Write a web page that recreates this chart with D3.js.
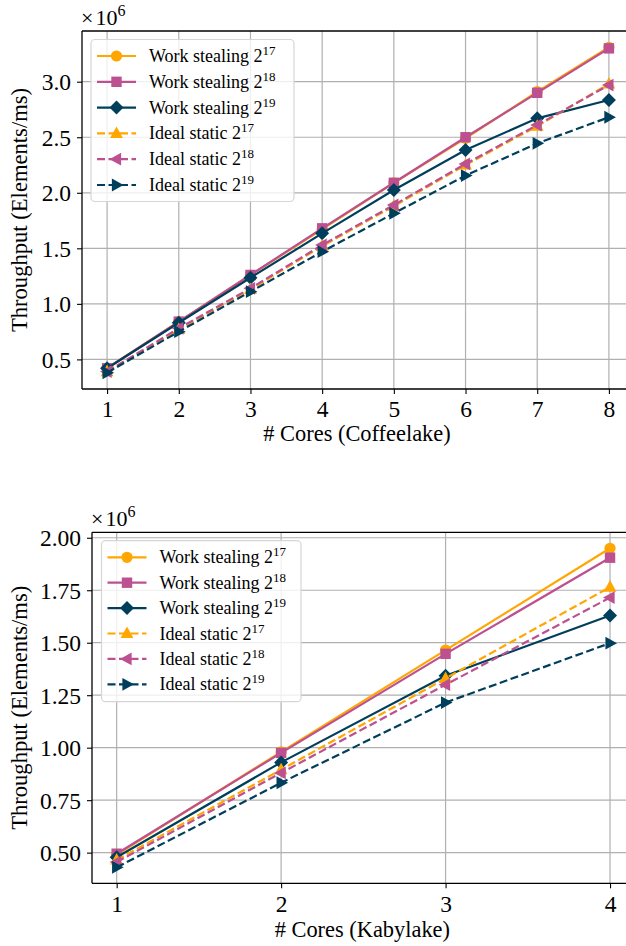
<!DOCTYPE html>
<html>
<head>
<meta charset="utf-8">
<script src="https://cdn.jsdelivr.net/npm/d3@7"></script>
<style>
  html, body { margin: 0; padding: 0; background: #fff; }
  svg { display: block; }
</style>
</head>
<body>
<svg id="chart" width="626" height="946" font-family="Liberation Serif"></svg>
<script>
// Throughput measurements (elements per ms, in units of 10^6)
const coresCoffee = [1, 2, 3, 4, 5, 6, 7, 8];
const coffeeWS17 = [0.42, 0.84, 1.26, 1.67, 2.09, 2.49, 2.91, 3.31];
const coffeeWS18 = [0.42, 0.84, 1.26, 1.68, 2.09, 2.50, 2.90, 3.30];
const coffeeWS19 = [0.42, 0.83, 1.235, 1.635, 2.025, 2.385, 2.67, 2.835];
const coffeeIS17 = [0.39, 0.77, 1.13, 1.52, 1.88, 2.25, 2.60, 2.98];
const coffeeIS18 = [0.39, 0.78, 1.14, 1.53, 1.89, 2.26, 2.61, 2.97];
const coffeeIS19 = [0.38, 0.75, 1.11, 1.47, 1.815, 2.155, 2.445, 2.68];

const coresKaby = [1, 2, 3, 4];
const kabyWS17 = [0.49, 0.98, 1.465, 1.95];
const kabyWS18 = [0.495, 0.975, 1.447, 1.905];
const kabyWS19 = [0.478, 0.93, 1.343, 1.63];
const kabyIS17 = [0.465, 0.895, 1.33, 1.765];
const kabyIS18 = [0.455, 0.88, 1.30, 1.715];
const kabyIS19 = [0.43, 0.833, 1.215, 1.498];

const coffeeYTicks = [0.5, 1.0, 1.5, 2.0, 2.5, 3.0];
const kabyYTicks = [0.50, 0.75, 1.00, 1.25, 1.50, 1.75, 2.00];

const seriesNames = [
  ["Work stealing 2", "17"], ["Work stealing 2", "18"], ["Work stealing 2", "19"],
  ["Ideal static 2", "17"], ["Ideal static 2", "18"], ["Ideal static 2", "19"]
];
const seriesColors = ["#ffa600", "#bc5090", "#003f5c", "#ffa600", "#bc5090", "#003f5c"];
const seriesMarkers = ["circle", "square", "diamond", "triUp", "triLeft", "triRight"];
const seriesDashed = [false, false, false, true, true, true];

const FONT = "Liberation Serif";
const svg = d3.select("#chart");

function markerPath(kind) {
  switch (kind) {
    case "circle": return d3.symbol(d3.symbolCircle, Math.PI * 5.6 * 5.6)();
    case "square": return "M-5.2,-5.2H5.2V5.2H-5.2Z";
    case "diamond": return "M0,-7L7,0L0,7L-7,0Z";
    case "triUp": return "M0,-7L6.4,4.6L-6.4,4.6Z";
    case "triLeft": return "M-7,0L4.6,-6.4L4.6,6.4Z";
    case "triRight": return "M7,0L-4.6,-6.4L-4.6,6.4Z";
  }
}

function label(sel) {
  return sel.append("text").attr("font-family", FONT).attr("fill", "#000");
}

function drawPanel(cfg) {
  const g = svg.append("g");
  const xs = cfg.x;
  const all = cfg.series.flat();
  const lo = d3.min(all), hi = d3.max(all), pad = (hi - lo) * 0.05;
  const xPad = (d3.max(xs) - d3.min(xs)) * 0.05;

  const x = d3.scaleLinear().domain([d3.min(xs) - xPad, d3.max(xs) + xPad]).range([cfg.left, cfg.right]);
  const y = d3.scaleLinear().domain([lo - pad, hi + pad]).range([cfg.bottom, cfg.top]);

  // grid
  const grid = g.append("g").attr("stroke", "#b0b0b0").attr("stroke-width", 1.2);
  xs.forEach(v => grid.append("line").attr("x1", x(v)).attr("x2", x(v)).attr("y1", cfg.top).attr("y2", cfg.bottom));
  cfg.yTicks.forEach(v => grid.append("line").attr("x1", cfg.left).attr("x2", cfg.right).attr("y1", y(v)).attr("y2", y(v)));

  // series
  const line = d3.line().x((d, i) => x(xs[i])).y(d => y(d));
  cfg.series.forEach((vals, s) => {
    const sg = g.append("g");
    sg.append("path")
      .attr("d", line(vals))
      .attr("fill", "none")
      .attr("stroke", seriesColors[s])
      .attr("stroke-width", 2.2)
      .attr("stroke-dasharray", seriesDashed[s] ? "8,3.5" : null);
    sg.selectAll("path.m").data(vals).enter().append("path")
      .attr("class", "m")
      .attr("d", markerPath(seriesMarkers[s]))
      .attr("transform", (d, i) => `translate(${x(xs[i])},${y(d)})`)
      .attr("fill", seriesColors[s]);
  });

  // axes
  const xAxis = d3.axisBottom(x).tickValues(xs).tickSize(5).tickPadding(7).tickFormat(d3.format("d"));
  const yAxis = d3.axisLeft(y).tickValues(cfg.yTicks).tickSize(5).tickPadding(6).tickFormat(d3.format(cfg.yFormat));
  const gx = g.append("g").attr("transform", `translate(0,${cfg.bottom})`).call(xAxis);
  const gy = g.append("g").attr("transform", `translate(${cfg.left},0)`).call(yAxis);
  [gx, gy].forEach(a => {
    a.attr("font-family", FONT).attr("font-size", 23.5);
    a.select(".domain").remove();
    a.selectAll(".tick line").attr("stroke", "#000").attr("stroke-width", 1.1);
    a.selectAll(".tick text").attr("fill", "#000").attr("font-family", FONT);
  });
  gy.selectAll(".tick text").attr("dy", "0.34em");
  gx.selectAll(".tick text").attr("dy", "0.70em");

  // spines
  const sp = g.append("g").attr("stroke", "#000").attr("stroke-width", 1.3).attr("fill", "none");
  sp.append("line").attr("x1", cfg.left).attr("x2", cfg.right).attr("y1", cfg.top).attr("y2", cfg.top);
  sp.append("line").attr("x1", cfg.left).attr("x2", cfg.right).attr("y1", cfg.bottom).attr("y2", cfg.bottom);
  sp.append("line").attr("x1", cfg.left).attr("x2", cfg.left).attr("y1", cfg.top).attr("y2", cfg.bottom);
  sp.append("line").attr("x1", cfg.right).attr("x2", cfg.right).attr("y1", cfg.top).attr("y2", cfg.bottom);

  // offset label
  const off = label(g).attr("x", cfg.left - 1).attr("y", cfg.top - 6).attr("font-size", 22);
  off.append("tspan").text("×");
  off.append("tspan").attr("dx", 2).text("10");
  off.append("tspan").attr("dy", -9).attr("font-size", 16).text("6");

  // axis titles
  label(g).attr("x", (cfg.left + cfg.right) / 2 - 1).attr("y", cfg.xLabelY)
    .attr("text-anchor", "middle").attr("font-size", 22.4).text(cfg.xLabel);
  label(g).attr("transform", `translate(27,${(cfg.top + cfg.bottom) / 2}) rotate(-90)`)
    .attr("text-anchor", "middle").attr("font-size", 22.6).text("Throughput (Elements/ms)");

  // legend
  const L = cfg.legend;
  const lg = g.append("g");
  lg.append("rect").attr("x", L.x).attr("y", L.y).attr("width", L.w).attr("height", L.h)
    .attr("rx", 4).attr("fill", "rgba(255,255,255,0.8)").attr("stroke", "#d6d6d6").attr("stroke-width", 1.2);
  seriesNames.forEach((nm, s) => {
    const cy = L.row0 + s * L.step;
    lg.append("line").attr("x1", L.x + 6).attr("x2", L.x + 45).attr("y1", cy).attr("y2", cy)
      .attr("stroke", seriesColors[s]).attr("stroke-width", 2.2)
      .attr("stroke-dasharray", seriesDashed[s] ? "8,3.5" : null);
    lg.append("path").attr("d", markerPath(seriesMarkers[s]))
      .attr("transform", `translate(${L.x + 25.5},${cy})`).attr("fill", seriesColors[s]);
    const t = label(lg).attr("x", L.x + 58).attr("y", cy + 6).attr("font-size", 18);
    t.append("tspan").text(nm[0]);
    t.append("tspan").attr("dy", -7).attr("font-size", 13).text(nm[1]);
  });
}

drawPanel({
  x: coresCoffee,
  series: [coffeeWS17, coffeeWS18, coffeeWS19, coffeeIS17, coffeeIS18, coffeeIS19],
  yTicks: coffeeYTicks, yFormat: ".1f",
  left: 82, right: 634, top: 31, bottom: 389,
  xLabel: "# Cores (Coffeelake)", xLabelY: 441,
  legend: { x: 91, y: 39.5, w: 203, h: 162, row0: 56, step: 25.8 }
});

drawPanel({
  x: coresKaby,
  series: [kabyWS17, kabyWS18, kabyWS19, kabyIS17, kabyIS18, kabyIS19],
  yTicks: kabyYTicks, yFormat: ".2f",
  left: 92, right: 634.7, top: 532.3, bottom: 883.3,
  xLabel: "# Cores (Kabylake)", xLabelY: 937,
  legend: { x: 101.5, y: 540.7, w: 199.5, h: 161, row0: 557.3, step: 25.4 }
});
</script>
</body>
</html>
